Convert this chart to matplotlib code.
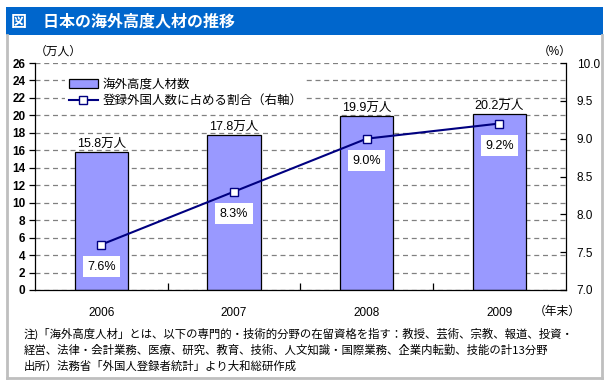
import matplotlib
matplotlib.use("Agg")
import matplotlib.pyplot as plt
from matplotlib.patches import Rectangle, Patch
from matplotlib.lines import Line2D

plt.rcParams['font.family'] = ['Liberation Sans', 'Noto Sans CJK JP', 'DejaVu Sans']

years = ["2006", "2007", "2008", "2009"]
talent = [15.8, 17.8, 19.9, 20.2]          # 万人
share = [7.6, 8.3, 9.0, 9.2]               # %
left_ticks = list(range(0, 27, 2))
right_ticks = [7.0, 7.5, 8.0, 8.5, 9.0, 9.5, 10.0]

title = "図　日本の海外高度人材の推移"
legend_bar = "海外高度人材数"
legend_line = "登録外国人数に占める割合（右軸）"
notes = [
    "注)「海外高度人材」とは、以下の専門的・技術的分野の在留資格を指す：教授、芸術、宗教、報道、投資・",
    "経営、法律・会計業務、医療、研究、教育、技術、人文知識・国際業務、企業内転勤、技能の計13分野",
    "出所）法務省「外国人登録者統計」より大和総研作成",
]

W, H = 609, 383
fig = plt.figure(figsize=(W / 100, H / 100), dpi=100)

def fx(px):
    return px / W

def fy(py):
    return 1 - py / H

# Title bar
fig.patches.append(Rectangle((fx(6), fy(35)), fx(603) - fx(6), fy(7) - fy(35),
                             transform=fig.transFigure, facecolor="#0066CC",
                             edgecolor="none", zorder=0))
fig.text(fx(11), fy(21.5), title, color="white", fontsize=11.5, fontweight="bold",
         va="center", ha="left", family=['Noto Sans CJK JP'])

# Gray border
for xs, ys in [((6.5, 6.5), (35, 377.5)), ((601.5, 601.5), (35, 377.5)), ((6.5, 601.5), (377.5, 377.5))]:
    fig.add_artist(Line2D([fx(xs[0]), fx(xs[1])], [fy(ys[0]), fy(ys[1])],
                          transform=fig.transFigure, color="#BFBFBF", lw=2))

ax = fig.add_axes([fx(35), fy(290), fx(565.7) - fx(35), fy(63) - fy(290)])
ax2 = ax.twinx()

x = list(range(len(years)))
bars = ax.bar(x, talent, width=0.4, color="#9999FF", edgecolor="black", linewidth=0.9, zorder=2)
ax.set_xlim(-0.5, 3.5)
ax.set_ylim(0, 26)
ax.set_yticks(left_ticks)
ax.set_yticklabels([str(v) for v in left_ticks], fontsize=8.5, fontweight="bold")
ax.yaxis.grid(True, linestyle=(0, (4, 3)), color="#808080", linewidth=0.9, zorder=0)
ax.set_axisbelow(True)
ax.set_xticks(x)
ax.set_xticklabels(years, fontsize=8.5)
ax.set_xticks([0.5, 1.5, 2.5], minor=True)
ax.tick_params(axis="x", which="major", length=0, pad=12)
ax.tick_params(axis="x", which="minor", direction="in", length=5, width=0.9)
ax.tick_params(axis="y", direction="out", length=4, width=0.9, pad=3)
for s in ["top", "right"]:
    ax.spines[s].set_visible(False)
ax.spines["left"].set_linewidth(0.9)
ax.spines["bottom"].set_linewidth(0.9)

for xi, v in zip(x, talent):
    ax.annotate(f"{v:.1f}万人", (xi, v), xytext=(0, 2), textcoords="offset pixels",
                ha="center", va="bottom", fontsize=9)

ax2.plot(x, share, color="#000080", lw=1.5, marker="s", markersize=6,
         markerfacecolor="white", markeredgecolor="#000080", markeredgewidth=1.0, zorder=3)
ax2.set_ylim(7.0, 10.0)
ax2.set_yticks(right_ticks)
ax2.set_yticklabels([f"{v:.1f}" for v in right_ticks], fontsize=8.5)
ax2.tick_params(axis="y", direction="in", length=4, width=0.9, pad=8)
for s in ["top", "left", "bottom"]:
    ax2.spines[s].set_visible(False)
ax2.spines["right"].set_linewidth(0.9)

for xi, v in zip(x, share):
    ax2.annotate(f"{v:.1f}%", (xi, v), xytext=(0, -22), textcoords="offset pixels",
                 ha="center", va="center", fontsize=9,
                 bbox=dict(boxstyle="square,pad=0.35", facecolor="white", edgecolor="none"))

handles = [Patch(facecolor="#9999FF", edgecolor="black", linewidth=0.9),
           Line2D([0], [0], color="#000080", lw=1.5, marker="s", markersize=6,
                  markerfacecolor="white", markeredgecolor="#000080")]
leg = ax2.legend(handles, [legend_bar, legend_line], loc="upper left",
                 bbox_to_anchor=(0.045, 0.975), frameon=True, fancybox=False,
                 edgecolor="none", facecolor="white", framealpha=1, fontsize=9,
                 handlelength=2.3, handletextpad=0.4, labelspacing=0.35, borderpad=0.3)

# unit labels
fig.text(fx(35), fy(52), "（万人）", fontsize=8.5, ha="left", va="center")
fig.text(fx(555), fy(52), "（%）", fontsize=8.5, ha="center", va="center")
fig.text(fx(557), fy(312), "（年末）", fontsize=8.5, ha="center", va="center")

for i, line in enumerate(notes):
    fig.text(fx(24), fy(334 + 16 * i), line, fontsize=8.2, ha="left", va="center",
             family=['Noto Sans CJK JP'])

fig.savefig("out.png", dpi=100)
